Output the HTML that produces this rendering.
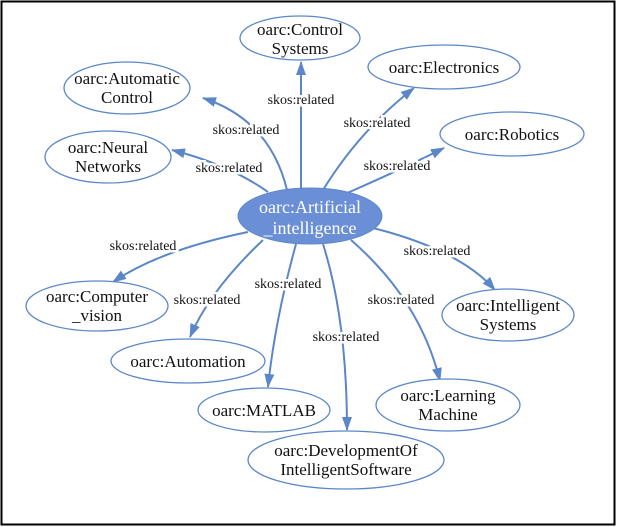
<!DOCTYPE html>
<html><head><meta charset="utf-8"><style>
html,body{margin:0;padding:0;background:#fff}
svg{display:block}
text{font-family:"Liberation Serif",serif;fill:#111}
.n{font-size:17px;text-anchor:middle}
.l{font-size:14px;text-anchor:middle;stroke:#fff;stroke-width:5px;paint-order:stroke}
.e{fill:none;stroke:#5b87c8;stroke-width:2}
.o{fill:#fff;stroke:#5b87c8;stroke-width:1.3}
</style></head><body>
<svg width="617" height="527" viewBox="0 0 617 527">
<defs><marker id="a" markerWidth="14" markerHeight="10" refX="13" refY="5" orient="auto" markerUnits="userSpaceOnUse"><path d="M0,0 L14,5 L0,10 z" fill="#5b87c8"/></marker></defs>
<rect x="1.5" y="1.5" width="613" height="523" fill="#fff" stroke="#000" stroke-width="2"/>
<g class="e" marker-end="url(#a)">
<path d="M301,188 L301,62"/>
<path d="M287,190 Q270,120 203,98"/>
<path d="M268,192 Q230,165 172,150"/>
<path d="M323,190 Q360,130 414,88"/>
<path d="M345,194 Q400,170 444,148"/>
<path d="M248,232 Q160,250 113,282"/>
<path d="M263,240 Q210,290 190,337"/>
<path d="M296,244 Q275,320 268,387"/>
<path d="M323,244 Q347,320 347,430"/>
<path d="M351,240 Q420,300 440,381"/>
<path d="M373,228 Q460,250 495,290"/>
</g>
<ellipse class="o" cx="300" cy="38" rx="60" ry="22"/>
<ellipse class="o" cx="444" cy="67" rx="76" ry="22"/>
<ellipse class="o" cx="127" cy="88" rx="63" ry="26"/>
<ellipse class="o" cx="512" cy="134" rx="72" ry="22"/>
<ellipse class="o" cx="108" cy="157" rx="63" ry="26"/>
<ellipse cx="310" cy="216" rx="72" ry="28" fill="#6b8fd6" stroke="#5b87c8"/>
<ellipse class="o" cx="97" cy="306" rx="71" ry="25"/>
<ellipse class="o" cx="508" cy="315" rx="66" ry="26"/>
<ellipse class="o" cx="188" cy="361" rx="77" ry="22"/>
<ellipse class="o" cx="264" cy="410" rx="66" ry="22"/>
<ellipse class="o" cx="448" cy="405" rx="72" ry="26"/>
<ellipse class="o" cx="346" cy="460" rx="98" ry="29"/>
<text class="n" x="300" y="35">oarc:Control</text><text class="n" x="300" y="54">Systems</text>
<text class="n" x="444" y="73">oarc:Electronics</text>
<text class="n" x="127" y="84">oarc:Automatic</text><text class="n" x="127" y="103">Control</text>
<text class="n" x="512" y="140">oarc:Robotics</text>
<text class="n" x="108" y="153">oarc:Neural</text><text class="n" x="108" y="172">Networks</text>
<text class="n" x="310" y="213" style="fill:#fff;font-size:18px">oarc:Artificial</text><text class="n" x="310" y="234" style="fill:#fff;font-size:18px">_intelligence</text>
<text class="n" x="97" y="302">oarc:Computer</text><text class="n" x="97" y="321">_vision</text>
<text class="n" x="508" y="311">oarc:Intelligent</text><text class="n" x="508" y="330">Systems</text>
<text class="n" x="188" y="367">oarc:Automation</text>
<text class="n" x="264" y="416">oarc:MATLAB</text>
<text class="n" x="448" y="401">oarc:Learning</text><text class="n" x="448" y="420">Machine</text>
<text class="n" x="346" y="456">oarc:DevelopmentOf</text><text class="n" x="346" y="475">IntelligentSoftware</text>
<text class="l" x="301" y="104">skos:related</text>
<text class="l" x="246" y="134">skos:related</text>
<text class="l" x="377" y="127">skos:related</text>
<text class="l" x="229" y="172">skos:related</text>
<text class="l" x="397" y="170">skos:related</text>
<text class="l" x="143" y="250">skos:related</text>
<text class="l" x="437" y="255">skos:related</text>
<text class="l" x="207" y="304">skos:related</text>
<text class="l" x="288" y="288">skos:related</text>
<text class="l" x="401" y="304">skos:related</text>
<text class="l" x="346" y="341">skos:related</text>
</svg>
</body></html>
